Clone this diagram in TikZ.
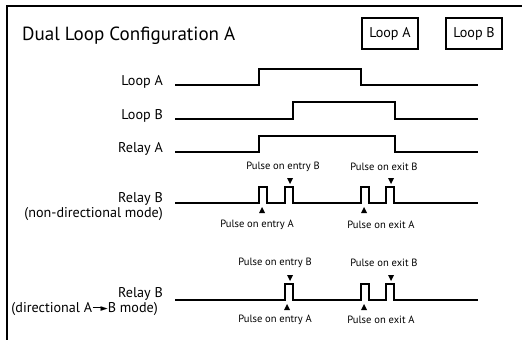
\documentclass[tikz,border=0pt]{standalone}
\usepackage{fontspec}
\setmainfont{PT Sans}
\newfontfamily\symfont{DejaVu Sans}
\begin{document}
\begin{tikzpicture}[x=1bp,y=-1bp,
  sig/.style={line width=1.4bp,line join=miter},
  lbl/.style={anchor=base east,inner sep=0pt,font=\fontsize{14.2}{16}\selectfont},
  plbl/.style={inner sep=0pt,font=\fontsize{10.6}{12}\selectfont},
  keybox/.style={draw,line width=1.3bp,minimum width=56bp,minimum height=31bp,inner sep=0pt,font=\fontsize{14.2}{16}\selectfont}]
\useasboundingbox (0,0) rectangle (522,339);
% frame
\draw[line width=1.8bp] (7,345) -- (7,6) -- (530,6);
% title
\node[anchor=base west,inner sep=0pt,font=\fontsize{19.1}{22}\selectfont] (title) at (22,40) {Dual Loop Configuration A};
% key boxes
\node[keybox] (boxA) at (390,33.5) {Loop A};
\node[keybox] (boxB) at (474,33.5) {Loop B};
% labels
\node[lbl] (lLoopA) at (163,85) {Loop A};
\node[lbl] (lLoopB) at (163,119) {Loop B};
\node[lbl] (lRelayA) at (163,152) {Relay A};
\node[lbl] (lRelayB1) at (163,202.5) {Relay B};
\node[lbl] (lRelayB1m) at (163,217.5) {(non-directional mode)};
\node[lbl] (lRelayB2) at (163,297) {Relay B};
\node[lbl] (lRelayB2m) at (158,312) {(directional A\kern0.5bp\rule[3.9bp]{10bp}{1bp}\kern-2bp\raisebox{0.5bp}{\symfont\fontsize{9.5}{10}\selectfont ►}B mode)};
% signals
\draw[sig] (175,85) -- (259,85) -- (259,69) -- (361,69) -- (361,85) -- (478,85);
\draw[sig] (175,119) -- (293,119) -- (293,102) -- (395,102) -- (395,119) -- (478,119);
\draw[sig] (175,152) -- (259,152) -- (259,136) -- (395,136) -- (395,152) -- (478,152);
\draw[sig] (175,203) -- (259,203) -- (259,187) -- (267,187) -- (267,203)
  -- (285,203) -- (285,187) -- (293,187) -- (293,203)
  -- (361,203) -- (361,187) -- (369,187) -- (369,203)
  -- (386,203) -- (386,187) -- (394,187) -- (394,203) -- (478,203);
\draw[sig] (175,300) -- (285,300) -- (285,284) -- (293,284) -- (293,300)
  -- (361,300) -- (361,284) -- (369,284) -- (369,300)
  -- (386,300) -- (386,284) -- (394,284) -- (394,300) -- (478,300);
% markers
\fill (287,178) -- (293,178) -- (290,184) -- cycle;
\fill (388,178) -- (394,178) -- (391,184) -- cycle;
\fill (259,213) -- (265,213) -- (262,207) -- cycle;
\fill (361,213) -- (367,213) -- (364,207) -- cycle;
\fill (287,275) -- (293,275) -- (290,281) -- cycle;
\fill (388,275) -- (394,275) -- (391,281) -- cycle;
\fill (284,310) -- (290,310) -- (287,304) -- cycle;
\fill (361,310) -- (367,310) -- (364,304) -- cycle;
% pulse labels
\node[plbl] (pEB1) at (283,167) {Pulse on entry B};
\node[plbl] (pXB1) at (384,167) {Pulse on exit B};
\node[plbl] (pEA1) at (257,225) {Pulse on entry A};
\node[plbl] (pXA1) at (381,225) {Pulse on exit A};
\node[plbl] (pEB2) at (275,263) {Pulse on entry B};
\node[plbl] (pXB2) at (384,263) {Pulse on exit B};
\node[plbl] (pEA2) at (275,320) {Pulse on entry A};
\node[plbl] (pXA2) at (381,320) {Pulse on exit A};
\end{tikzpicture}
\end{document}
